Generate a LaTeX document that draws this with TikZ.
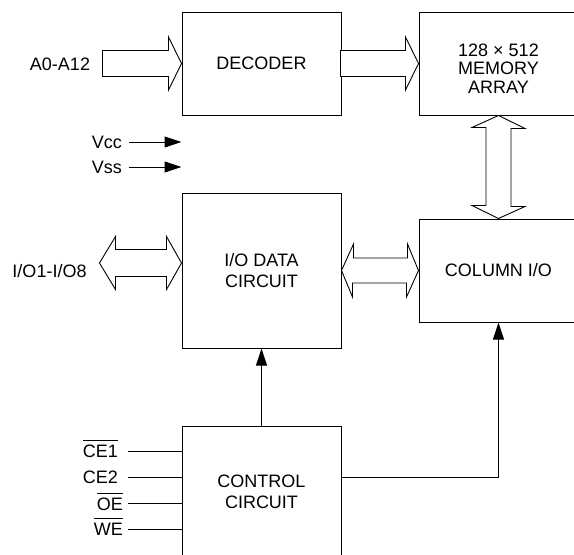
\documentclass[tikz,border=0pt]{standalone}
\usepackage{fontspec}
\setmainfont{Liberation Sans}
\usetikzlibrary{arrows.meta}
\newcommand\myovl[1]{\leavevmode\hbox{\vbox{\hrule height 0.9pt \kern 4pt \hbox{#1}}}}
\begin{document}
\begin{tikzpicture}[x=1pt,y=-1pt,
 every node/.style={font=\fontsize{18}{21}\selectfont},
 blk/.style={draw, line width=1pt, minimum width=159pt, inner sep=0pt, align=center},
 hollow/.style={draw, line width=0.9pt, fill=white, line join=miter},
 sig/.style={line width=1pt},
 tip/.style={-{Triangle[length=17pt,width=11pt]}},
 lbl/.style={inner sep=0pt}]
\useasboundingbox (0,0) rectangle (574,555);

% blocks
\node[blk, minimum height=103pt] (decoder) at (261.5,63.5) {DECODER};
\node[blk, minimum height=103pt,
  label={[align=center,font=\fontsize{18}{18.5}\selectfont,yshift=-5pt]center:128 × 512\\MEMORY\\ARRAY}] (memory) at (498.5,63.5) {};
\node[blk, minimum height=155pt] (iodata) at (261.5,270.5) {I/O DATA\\CIRCUIT};
\node[blk, minimum height=103pt] (colio) at (498.5,270.5) {COLUMN I/O};
\node[blk, minimum height=132pt] (control) at (261.5,492) {CONTROL\\CIRCUIT};

% labels
\node[lbl] (a012) at (60,64) {A0-A12};
\node[lbl, anchor=east] (vcc) at (122,142) {Vcc};
\node[lbl, anchor=east] (vss) at (122,167) {Vss};
\node[lbl] (io18) at (49.5,271) {I/O1-I/O8};
\node[lbl, anchor=base east] (ce1) at (118,457.5) {\myovl{CE1}};
\node[lbl, anchor=base east] (ce2) at (118,483) {CE2};
\node[lbl, anchor=base east] (oe) at (123,510) {\myovl{OE}};
\node[lbl, anchor=base east] (we) at (123,535) {\myovl{WE}};

% hollow bus arrows
\draw[hollow] (decoder.west) -- ++(-13,-26.5) -- ++(0,13.5) -- ++(-66,0) -- ++(0,26)
  -- ++(66,0) -- ++(0,13.5) -- cycle;
\draw[hollow] (memory.west) -- ++(-13,-26.5) -- ++(0,13.5) -- ++(-65,0) -- ++(0,26)
  -- ++(65,0) -- ++(0,13.5) -- cycle;
\draw[hollow] (memory.south) -- ++(26.5,13) -- ++(-14,0) -- ++(0,78) -- ++(14,0)
  -- (colio.north) -- ++(-26.5,-13) -- ++(14,0) -- ++(0,-78) -- ++(-14,0) -- cycle;
\draw[hollow] (iodata.east) -- ++(12,-26.5) -- ++(0,14) -- ++(54,0) -- ++(0,-14)
  -- (colio.west) -- ++(-12,26.5) -- ++(0,-14) -- ++(-54,0) -- ++(0,14) -- cycle;
\draw[hollow] ([yshift=7.5pt]iodata.west) -- ++(-15,-26.5) -- ++(0,13) -- ++(-51,0)
  -- ++(0,-13) -- ++(-16,26.5) -- ++(16,26.5) -- ++(0,-13) -- ++(51,0) -- ++(0,13) -- cycle;

% supply arrows
\draw[sig,tip] ([xshift=7pt]vcc.east) -- (vcc.east -| iodata.west);
\draw[sig,tip] ([xshift=7pt]vss.east) -- (vss.east -| iodata.west);

% control inputs
\coordinate (ce1l) at (128,451);
\coordinate (ce2l) at (128,477);
\coordinate (oel) at (128,503);
\coordinate (wel) at (128,529);
\draw[sig] (ce1l) -- (ce1l -| control.west);
\draw[sig] (ce2l) -- (ce2l -| control.west);
\draw[sig] (oel) -- (oel -| control.west);
\draw[sig] (wel) -- (wel -| control.west);

% control outputs
\draw[sig,tip] (control.north) -- (iodata.south);
\draw[sig,tip] ([yshift=15pt]control.east) -| (colio.south);
\end{tikzpicture}
\end{document}
